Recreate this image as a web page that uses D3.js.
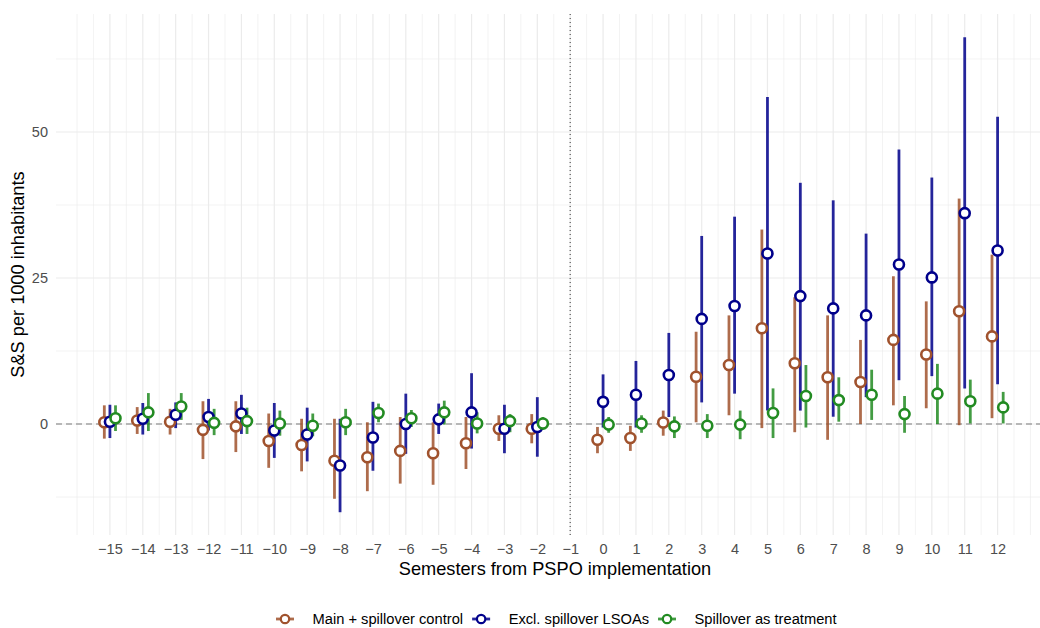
<!DOCTYPE html>
<html>
<head>
<meta charset="utf-8">
<script src="https://cdn.jsdelivr.net/npm/d3@7"></script>
<style>
  html, body { margin: 0; padding: 0; background: #fff; }
  svg { display: block; font-family: "Liberation Sans", Arial, Helvetica, sans-serif; }
</style>
</head>
<body>
<svg id="chart" width="1040" height="628"></svg>
<script>
// ---------------- DATA ----------------
const semesters = [-15,-14,-13,-12,-11,-10,-9,-8,-7,-6,-5,-4,-3,-2,0,1,2,3,4,5,6,7,8,9,10,11,12];
const xTickLabels = [-15,-14,-13,-12,-11,-10,-9,-8,-7,-6,-5,-4,-3,-2,-1,0,1,2,3,4,5,6,7,8,9,10,11,12];
const yTickValues = [0, 25, 50];
const seriesNames = ["Main + spillover control", "Excl. spillover LSOAs", "Spillover as treatment"];

// Main + spillover control
const mainEst = [0.3,0.6,0.4,-1.0,-0.4,-2.9,-3.6,-6.3,-5.7,-4.6,-5.0,-3.3,-0.8,-0.8,-2.7,-2.4,0.25,8.1,10.1,16.4,10.4,8.0,7.2,14.4,11.9,19.3,15.0];
const mainLo  = [-2.5,-1.7,-1.8,-6.0,-4.8,-7.5,-8.1,-12.8,-11.5,-10.2,-10.4,-7.7,-2.9,-3.3,-5.0,-4.6,-2.0,0.3,1.5,-0.7,-1.4,-2.7,0.0,3.2,2.7,-0.2,1.0];
const mainHi  = [3.2,2.9,2.6,3.9,3.9,1.8,0.9,0.9,0.3,1.2,0.3,1.2,1.5,1.7,-0.5,-0.3,2.3,15.8,18.6,33.3,21.7,18.6,14.4,25.3,21.0,38.6,29.0];

// Excl. spillover LSOAs
const exclEst = [0.4,0.9,1.6,1.2,1.8,-1.1,-1.8,-7.1,-2.3,0.0,0.8,2.0,-0.8,-0.5,3.8,5.0,8.4,18.0,20.2,29.2,21.9,19.8,18.6,27.3,25.1,36.1,29.7];
const exclLo  = [-2.4,-1.8,-0.7,-1.1,-1.7,-5.8,-6.4,-15.1,-8.0,-5.1,-1.7,-4.2,-5.0,-5.6,-0.6,-0.6,1.2,3.7,5.2,2.3,2.3,1.25,4.6,7.5,8.2,6.1,6.8];
const exclHi  = [3.3,3.6,3.7,4.3,5.0,3.6,2.8,0.9,3.8,5.2,3.5,8.7,3.3,4.6,8.5,10.8,15.6,32.2,35.5,56.0,41.3,38.3,32.6,47.0,42.2,66.2,52.6];

// Spillover as treatment
const spillEst = [1.0,2.0,3.0,0.2,0.5,0.1,-0.3,0.3,1.9,1.0,2.0,0.1,0.5,0.1,-0.1,0.1,-0.4,-0.3,-0.1,1.9,4.8,4.1,5.0,1.7,5.2,3.9,2.85];
const spillLo  = [-1.2,-1.2,0.7,-1.9,-1.7,-2.0,-2.1,-1.9,0.3,-0.5,-0.1,-1.6,-1.4,-1.0,-1.5,-1.5,-2.4,-2.4,-2.6,-2.4,-0.6,0.4,0.7,-1.5,0.0,0.1,0.1];
const spillHi  = [3.2,5.3,5.3,2.6,2.8,2.3,1.8,2.6,3.5,2.4,4.0,2.0,1.7,1.2,1.2,1.5,1.3,1.7,2.3,6.1,10.1,8.0,9.3,4.8,10.3,7.6,5.5];

// ---------------- BUILD ----------------
const colors = ["#a0522d", "#00008b", "#228b22"];
const dodge = [-0.17, 0, 0.17];
const seriesData = [
  {est: mainEst, lo: mainLo, hi: mainHi},
  {est: exclEst, lo: exclLo, hi: exclHi},
  {est: spillEst, lo: spillLo, hi: spillHi}
];
const rows = [];
seriesData.forEach((s, si) => {
  semesters.forEach((t, i) => {
    rows.push({series: si, t: t, est: s.est[i], lo: s.lo[i], hi: s.hi[i]});
  });
});

const W = 1040, H = 628;
const panel = {left: 56, right: 1040, top: 14, bottom: 535};
const x = d3.scaleLinear().domain([-16.64, 13.29]).range([panel.left, panel.right]);
const y = d3.scaleLinear().domain([-19.0, 70.2]).range([panel.bottom, panel.top]);
const tickFont = "14.5px";
const legendFont = "14.7px";
const titleFont = "18.2px";

const svg = d3.select("#chart");
svg.append("rect").attr("width", W).attr("height", H).attr("fill", "#fff");

const grid = svg.append("g");
const vMinor = d3.range(-32, 27).map(k => k / 2).filter(v => !(Number.isInteger(v) && v >= -15 && v <= 12));
const hMinor = [-12.5, 12.5, 37.5, 62.5];
grid.selectAll(".vminor").data(vMinor).join("line")
  .attr("x1", d => x(d)).attr("x2", d => x(d))
  .attr("y1", panel.top).attr("y2", panel.bottom)
  .attr("stroke", "#ebebeb").attr("stroke-width", 0.6);
grid.selectAll(".hminor").data(hMinor).join("line")
  .attr("x1", panel.left).attr("x2", panel.right)
  .attr("y1", d => y(d)).attr("y2", d => y(d))
  .attr("stroke", "#ebebeb").attr("stroke-width", 0.6);
grid.selectAll(".vmajor").data(xTickLabels).join("line")
  .attr("x1", d => x(d)).attr("x2", d => x(d))
  .attr("y1", panel.top).attr("y2", panel.bottom)
  .attr("stroke", "#ebebeb").attr("stroke-width", 1.2);
grid.selectAll(".hmajor").data(yTickValues).join("line")
  .attr("x1", panel.left).attr("x2", panel.right)
  .attr("y1", d => y(d)).attr("y2", d => y(d))
  .attr("stroke", "#ebebeb").attr("stroke-width", 1.2);

// reference lines
svg.append("line")
  .attr("x1", panel.left).attr("x2", panel.right)
  .attr("y1", y(0)).attr("y2", y(0))
  .attr("stroke", "#7a7a7a").attr("stroke-width", 1.2)
  .attr("stroke-dasharray", "6,4");
svg.append("line")
  .attr("x1", x(-1)).attr("x2", x(-1))
  .attr("y1", panel.top).attr("y2", panel.bottom)
  .attr("stroke", "#555").attr("stroke-width", 1.2)
  .attr("stroke-dasharray", "1,3");

// axes
const xAxis = d3.axisBottom(x).tickValues(xTickLabels).tickSize(0).tickPadding(9);
const gx = svg.append("g").attr("transform", `translate(0,${panel.bottom})`).call(xAxis);
gx.select(".domain").remove();
gx.selectAll("text").attr("fill", "#4d4d4d").style("font-size", tickFont)
  .style("font-family", '"Liberation Sans", Arial, sans-serif');

const yAxis = d3.axisLeft(y).tickValues(yTickValues).tickSize(0).tickPadding(8);
const gy = svg.append("g").attr("transform", `translate(${panel.left},0)`).call(yAxis);
gy.select(".domain").remove();
gy.selectAll("text").attr("fill", "#4d4d4d").style("font-size", tickFont)
  .style("font-family", '"Liberation Sans", Arial, sans-serif');

// axis titles
svg.append("text")
  .attr("x", (panel.left + panel.right) / 2 + 7).attr("y", 575)
  .attr("text-anchor", "middle").attr("fill", "#000")
  .style("font-size", titleFont)
  .text("Semesters from PSPO implementation");
svg.append("text")
  .attr("transform", `translate(23.5,${(panel.top + panel.bottom) / 2}) rotate(-90)`)
  .attr("text-anchor", "middle").attr("fill", "#000")
  .style("font-size", titleFont)
  .text("S&S per 1000 inhabitants");

// error bars (all first), then points
const marks = svg.append("g");
marks.selectAll(".range").data(rows).join("line")
  .attr("x1", d => x(d.t + dodge[d.series])).attr("x2", d => x(d.t + dodge[d.series]))
  .attr("y1", d => y(d.lo)).attr("y2", d => y(d.hi))
  .attr("stroke", d => colors[d.series]).attr("stroke-opacity", 0.85)
  .attr("stroke-width", 2.8);
marks.selectAll(".pt").data(rows).join("circle")
  .attr("cx", d => x(d.t + dodge[d.series])).attr("cy", d => y(d.est))
  .attr("r", 5)
  .attr("fill", "#fff")
  .attr("stroke", d => colors[d.series]).attr("stroke-width", 2.6);

// legend
const legend = svg.append("g");
const legY = 619;
const keyHalf = 9, keyToText = 27.5, textToKey = 18;
const items = seriesNames.map((name, i) => {
  const g = legend.append("g");
  const t = g.append("text").attr("y", legY + 5).attr("fill", "#000")
    .style("font-size", legendFont).text(name);
  return {g, t, w: t.node().getComputedTextLength(), i};
});
let kc = 285;
items.forEach(it => {
  it.g.append("line").attr("x1", kc - keyHalf).attr("x2", kc + keyHalf)
    .attr("y1", legY).attr("y2", legY)
    .attr("stroke", colors[it.i]).attr("stroke-opacity", 0.85).attr("stroke-width", 2.8);
  it.g.append("circle").attr("cx", kc).attr("cy", legY).attr("r", 4.2)
    .attr("fill", "#fff").attr("stroke", colors[it.i]).attr("stroke-width", 2.2);
  it.t.attr("x", kc + keyToText);
  kc += keyToText + it.w + textToKey;
});
</script>
</body>
</html>
